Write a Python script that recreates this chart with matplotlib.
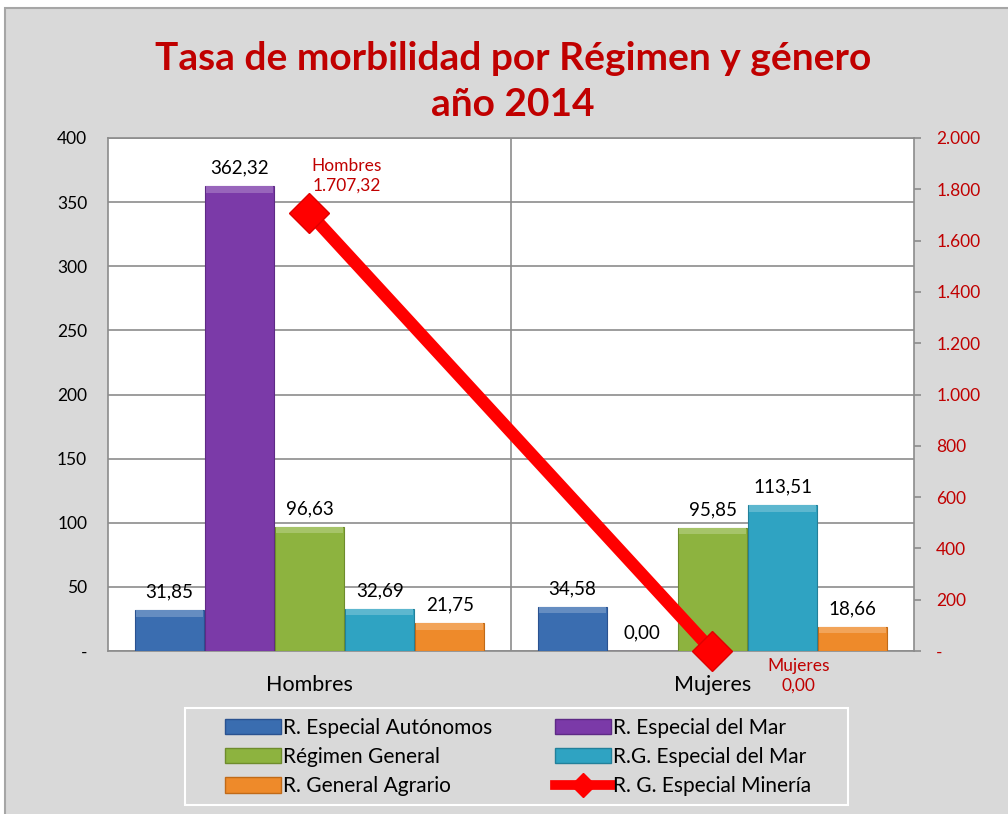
import matplotlib
matplotlib.use("Agg")
import matplotlib.pyplot as plt
import numpy as np
from matplotlib.patches import Rectangle, Patch
from matplotlib.lines import Line2D
from matplotlib.colors import to_rgb

# Data
categories = ['Hombres', 'Mujeres']
series_names = ['R. Especial Autónomos', 'R. Especial del Mar', 'Régimen General',
                'R.G. Especial del Mar', 'R. General Agrario']
autonomos = [31.85, 34.58]
especial_mar = [362.32, 0.00]
regimen_general = [96.63, 95.85]
rg_especial_mar = [32.69, 113.51]
agrario = [21.75, 18.66]
mineria = [1707.32, 0.00]
mineria_name = 'R. G. Especial Minería'

bar_series = [autonomos, especial_mar, regimen_general, rg_especial_mar, agrario]
colors = ['#3A6DB0', '#7B3AA8', '#8DB33F', '#2FA3C2', '#EE8A2A']
edges = ['#2A5290', '#5E2A85', '#6E8C2C', '#22809A', '#C06A18']

left_ticks = [0, 50, 100, 150, 200, 250, 300, 350, 400]
right_ticks = [0, 200, 400, 600, 800, 1000, 1200, 1400, 1600, 1800, 2000]

DARK_RED = '#C00000'


def es_num(v, dec=2):
    s = f"{v:,.{dec}f}"
    return s.replace(',', 'X').replace('.', ',').replace('X', '.')


def es_tick(v):
    if v == 0:
        return '-'
    return f"{int(v):,}".replace(',', '.')


def lighter(c, f=0.3):
    r, g, b = to_rgb(c)
    return (r + (1 - r) * f, g + (1 - g) * f, b + (1 - b) * f)


plt.rcParams['font.family'] = ['Lato', 'DejaVu Sans']

fig = plt.figure(figsize=(10.08, 8.14), dpi=100)
fig.patch.set_facecolor('white')
# grey chart background with frame
fig.patches.append(Rectangle((5 / 1008, -0.01), 1.0, 1 - 8 / 814 + 0.01,
                             transform=fig.transFigure, facecolor='#D9D9D9',
                             edgecolor='#A6A6A6', linewidth=1.5, zorder=-5))
# legend box
fig.patches.append(Rectangle((185 / 1008, 1 - 805 / 814), 663 / 1008, 97 / 814,
                             transform=fig.transFigure, facecolor='#D9D9D9',
                             edgecolor='white', linewidth=1.5, zorder=-4))

ax = fig.add_axes([108 / 1008, 1 - 651 / 814, 806 / 1008, 513 / 814])
ax.set_facecolor('white')

x = np.arange(len(categories))
width = 0.174
band = 5.0  # bevel band height (data units)
for i, (vals, c, ec) in enumerate(zip(bar_series, colors, edges)):
    pos = x + (i - 2) * width
    ax.bar(pos, vals, width=width * 0.99, color=c, edgecolor=ec, linewidth=0.8, zorder=3,
           label=series_names[i])
    for p, v in zip(pos, vals):
        if v > 0:
            h = min(band, v)
            ax.bar(p, h, bottom=v - h, width=width * 0.95, color=lighter(c, 0.22),
                   linewidth=0, zorder=4)
        ax.text(p, v + 7.5, es_num(v), ha='center', va='bottom', fontsize=13.5,
                color='black', zorder=5)

ax.set_xlim(-0.5, 1.5)
ax.set_ylim(0, 400)
ax.set_yticks(left_ticks)
ax.set_yticklabels([es_tick(t) for t in left_ticks], fontsize=12.5)
ax.set_xticks(x)
ax.set_xticklabels(categories, fontsize=15.5)
ax.tick_params(axis='x', length=0, pad=17)
ax.tick_params(axis='y', length=0, pad=15)
ax.grid(axis='y', color='#8C8C8C', linewidth=1.2, zorder=0)
ax.axvline(0.5, color='#8C8C8C', linewidth=1.2, zorder=0)
for s in ax.spines.values():
    s.set_color('#8C8C8C')
    s.set_linewidth(1.2)

ax2 = ax.twinx()
ax2.set_ylim(0, 2000)
ax2.set_yticks(right_ticks)
ax2.set_yticklabels([es_tick(t) for t in right_ticks], fontsize=12.5, color=DARK_RED)
ax2.tick_params(axis='y', length=5, width=1.2, color='#8C8C8C', pad=11)
for s in ax2.spines.values():
    s.set_visible(False)
ax2.plot(x, mineria, color='#FF0000', linewidth=9, marker='D', markersize=20,
         markerfacecolor='#FF0000', markeredgecolor='#E00000', zorder=6, clip_on=False,
         solid_capstyle='butt')
ax2.annotate(f"Hombres\n{es_num(mineria[0])}", (x[0], mineria[0]), xytext=(27, 14),
             textcoords='offset points', ha='center', va='bottom', fontsize=12.5,
             color=DARK_RED, linespacing=1.25)
ax2.annotate(f"Mujeres\n{es_num(mineria[1])}", (x[1], mineria[1]), xytext=(62, -5),
             textcoords='offset points', ha='center', va='top', fontsize=12.5,
             color=DARK_RED, linespacing=1.25)

fig.text(513 / 1008, 1 - 58 / 814, 'Tasa de morbilidad por Régimen y género', ha='center',
         va='center', fontsize=28, fontweight='bold', color=DARK_RED)
fig.text(513 / 1008, 1 - 105 / 814, 'año 2014', ha='center', va='center', fontsize=28,
         fontweight='bold', color=DARK_RED)

handles = [Patch(facecolor=c, edgecolor=ec) for c, ec in zip(colors, edges)]
line_handle = Line2D([], [], color='#FF0000', linewidth=7, marker='D', markersize=12)
order_h = [handles[0], handles[2], handles[4], handles[1], handles[3], line_handle]
order_l = [series_names[0], series_names[2], series_names[4], series_names[1],
           series_names[3], mineria_name]
leg = fig.legend(order_h, order_l, loc='center', ncol=2,
                 bbox_to_anchor=(518 / 1008, 1 - 757 / 814), fontsize=15,
                 frameon=False, handlelength=2.7, handleheight=0.75,
                 columnspacing=3.0, labelspacing=0.45, handletextpad=0.1,
                 borderpad=0.4, borderaxespad=0)

fig.savefig('out.png', dpi=100, facecolor=fig.get_facecolor())
